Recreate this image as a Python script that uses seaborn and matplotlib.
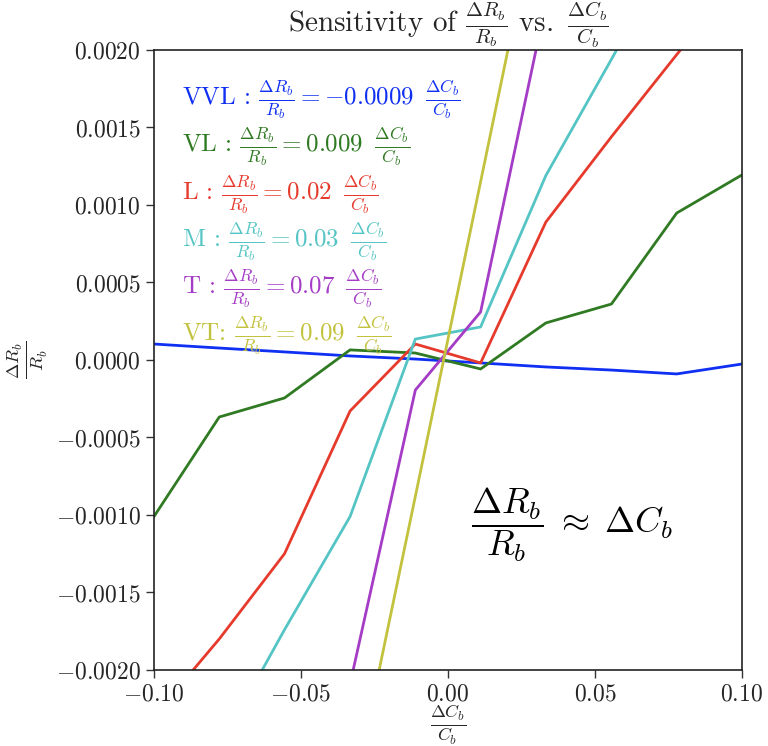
import numpy as np
import pandas as pd
import seaborn as sns
import matplotlib
matplotlib.use("Agg")
import matplotlib.pyplot as plt
from matplotlib.ticker import FuncFormatter, MultipleLocator

# Relative capacitance change (x) sampled at ten points
dC = [-0.1, -0.0778, -0.0556, -0.0333, -0.0111, 0.0111, 0.0333, 0.0556, 0.0778, 0.1]

# Relative resistance change (y) for each strain class
vvl = [1.03e-4, 7.7e-5, 5.2e-5, 2.6e-5, 6e-6, -1.9e-5, -4.5e-5, -6.5e-5, -9.0e-5, -2.6e-5]
vl = [-0.00101, -0.000368, -0.000245, 0.000065, 0.000045, -0.000058, 0.000239, 0.000361, 0.000948, 0.001194]
l_ = [-0.0023, -0.0018, -0.00125, -0.000329, 0.000103, -0.000019, 0.00089, 0.00144, 0.00197, 0.0025]
m_ = [-0.0033, -0.0025, -0.00174, -0.00101, 0.000135, 0.000213, 0.00119, 0.00194, 0.0027, 0.0034]
t_ = [-0.0070, -0.0055, -0.0040, -0.00209, -0.000194, 0.00031, 0.0023, 0.0040, 0.0055, 0.0070]
vt = [-0.0090, -0.0070, -0.0050, -0.0029, -0.00088, 0.00115, 0.00318, 0.0051, 0.0071, 0.0091]

classes = ["VVL", "VL", "L", "M", "T", "VT"]
prefixes = ["VVL :", "VL :", "L :", "M :", "T :", "VT:"]
slopes = ["-0.0009", "0.009", "0.02", "0.03", "0.07", "0.09"]
colors = ["#0f2ff2", "#2f7a22", "#e63b2c", "#55c4c4", "#a53cc6", "#c3c23e"]

series = [vvl, vl, l_, m_, t_, vt]
df = pd.DataFrame({
    "dC": np.tile(dC, len(classes)),
    "dR": np.concatenate(series),
    "cls": np.repeat(classes, len(dC)),
})

sns.set_style("ticks")
plt.rcParams["font.family"] = ["serif"]
plt.rcParams["font.serif"] = ["cmr10", "DejaVu Serif"]
plt.rcParams["mathtext.fontset"] = "cm"
plt.rcParams["axes.formatter.use_mathtext"] = True

fig = plt.figure(figsize=(7.68, 7.46), dpi=100)
ax = fig.add_axes([0.2005, 0.1019, 0.7656, 0.8311])

sns.lineplot(data=df, x="dC", y="dR", hue="cls", hue_order=classes,
             palette=colors, linewidth=2.0, legend=False, ax=ax, sort=False)

ax.set_xlim(-0.1, 0.1)
ax.set_ylim(-0.002, 0.002)
ax.xaxis.set_major_locator(MultipleLocator(0.05))
ax.yaxis.set_major_locator(MultipleLocator(0.0005))
ax.xaxis.set_major_formatter(FuncFormatter(lambda v, p: f"${v:.2f}$".replace("-0.00", "0.00")))
ax.yaxis.set_major_formatter(FuncFormatter(lambda v, p: f"${v:.4f}$".replace("-0.0000", "0.0000")))
ax.tick_params(axis="both", labelsize=17, direction="out", length=6, width=1, color="#333333")
for s in ax.spines.values():
    s.set_color("#222222")
    s.set_linewidth(1.2)

ax.set_xlabel(r"$\frac{\Delta C_b}{C_b}$", fontsize=18.5)
ax.xaxis.set_label_coords(0.5, -0.053)
ax.set_ylabel(r"$\frac{\Delta R_b}{R_b}$", fontsize=19, labelpad=4)
ax.set_title(r"Sensitivity of $\frac{\Delta R_b}{R_b}$ vs. $\,\frac{\Delta C_b}{C_b}$",
             fontsize=21, pad=3)

# Per-class fitted sensitivities
for i, (pre, k, c) in enumerate(zip(prefixes, slopes, colors)):
    y0 = 0.00168 - 0.000305 * i
    ax.text(-0.0905, y0,
            pre + r" $\frac{\Delta R_b}{R_b} = " + k + r"\;\; \frac{\Delta C_b}{C_b}$",
            color=c, fontsize=18, va="center", ha="left")

ax.text(0.0078, -0.00106, r"$\dfrac{\Delta R_b}{R_b} \;\approx\; \Delta C_b$",
        fontsize=26, va="center", ha="left", color="black")

fig.savefig("out.png", dpi=100)
